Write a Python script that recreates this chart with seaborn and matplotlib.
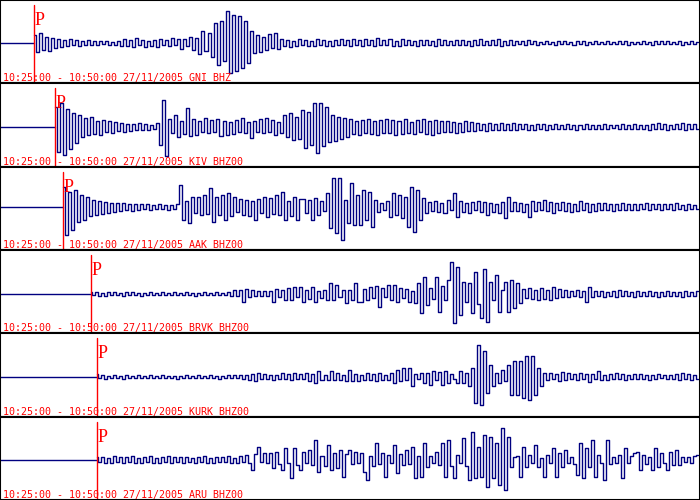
import numpy as np
import matplotlib
matplotlib.use('Agg')
import matplotlib.pyplot as plt
import seaborn as sns

# Seismograms 10:25:00 - 10:50:00 27/11/2005, amplitudes in pixel units,
# one sample every ~3 px starting at the P arrival
stations = ['GNI BHZ', 'KIV BHZ00', 'AAK BHZ00', 'BRVK BHZ00', 'KURK BHZ00', 'ARU BHZ00']
p_times = [73, 118, 135, 194, 207, 207]  # seconds after 10:25:00
baselines = [43, 44, 40, 44, 44, 43]      # px from panel top

gni = [8, -9, 10, -7, 6, -8, 5, -5, 4, -4,
       3, -3, 4, -2, 3, -3, 2, -2, 3, -2,
       2, -2, 2, -1, 2, -2, 1, -2, 2, -3,
       4, -3, 3, -4, 5, -2, 3, -4, 2, -3,
       3, -4, 4, -2, 3, -3, 5, -2, 4, -6,
       4, -3, 6, -7, 5, -11, 12, -8, 10, -14,
       20, -22, 22, -18, 32, -30, 28, -28, 27, -25,
       22, -20, 12, -10, 8, -9, 6, -7, 9, -5,
       10, -6, 4, -3, 3, -4, 2, -3, 4, -2,
       3, -3, 2, -3, 4, -2, 3, -3, 2, -3,
       3, -2, 4, -2, 3, -3, 4, -2, 3, -3,
       4, -2, 3, -3, 5, -2, 3, -2, 4, -3,
       2, -3, 4, -2, 3, -2, 2, -3, 3, -2,
       3, -2, 2, -3, 4, -2, 3, -2, 2, -2,
       3, -2, 3, -2, 2, -3, 3, -2, 4, -2,
       2, -2, 3, -2, 4, -3, 2, -2, 3, -2,
       2, -1, 2, -2, 3, -1, 2, -2, 1, -1,
       2, -1, 1, -2, 2, -1, 2, -1, 1, -2,
       2, -1, 2, -2, 1, -1, 2, -1, 1, -1,
       2, -1, 1, -1, 2, -1, 2, -2, 1, -1,
       1, -1, 2, -1, 1, -2, 2, -1, 2, -1,
       2, -1, 1, -1, 2, -2, 1, -1, 2, -1, 1]

kiv = [20, -25, 24, -28, 18, -22, 14, -16, 12, -10,
       9, -8, 10, -7, 6, -8, 7, -5, 6, -6,
       5, -4, 4, -5, 3, -4, 3, -3, 4, -3,
       3, -3, 2, -2, 4, -18, 27, -29, 8, -6,
       12, -10, 6, -7, 19, -9, 8, -8, 6, -5,
       9, -6, 7, -5, 8, -9, 6, -8, 5, -7,
       7, -5, 9, -6, 5, -11, 6, -5, 8, -6,
       9, -5, 7, -8, 5, -6, 12, -10, 14, -13,
       10, -12, 17, -21, 15, -18, 24, -26, 24, -19,
       20, -15, 12, -14, 10, -12, 9, -10, 8, -7,
       6, -8, 7, -6, 8, -7, 6, -8, 7, -6,
       8, -6, 7, -8, 6, -7, 8, -6, 5, -7,
       7, -5, 8, -7, 6, -8, 7, -6, 6, -5,
       6, -5, 5, -6, 4, -5, 6, -4, 5, -4,
       4, -3, 3, -4, 4, -3, 3, -3, 4, -3,
       3, -3, 4, -3, 3, -2, 3, -3, 2, -3,
       3, -2, 3, -3, 2, -2, 3, -2, 2, -2,
       3, -2, 2, -3, 2, -2, 3, -2, 2, -2,
       2, -2, 3, -2, 2, -1, 2, -2, 3, -2,
       2, -2, 3, -2, 2, -2, 2, -3, 3, -2,
       4, -2, 3, -3, 2, -2, 3, -2, 4, -3,
       3, -2, 3, -2]

aak = [20, -28, 15, -23, 17, -15, 12, -13, 10, -9,
       7, -8, 6, -7, 5, -6, 4, -5, 4, -4,
       4, -3, 3, -4, 3, -3, 3, -2, 3, -3,
       2, -2, 3, -2, 2, -3, 2, -2, 3, 22,
       -13, 6, -16, 10, -6, 10, -8, 12, -7, 19,
       -15, 10, -8, 12, -13, 14, -9, 10, -5, 8,
       -8, 7, -9, 6, -13, 8, -6, 10, -10, 9,
       -7, 12, -8, 15, -13, 6, -9, 10, -13, 8,
       8, -6, 7, -13, 9, -8, 6, -4, 14, -21,
       29, -26, 29, -33, 7, -16, 24, -18, 12, -18,
       17, -13, 15, -20, 7, -5, 4, -3, 6, -10,
       14, -8, 12, -11, 10, -20, 20, -25, 17, -13,
       9, -6, 5, -4, 6, -5, 4, -6, 7, -3,
       14, -10, 6, -5, 4, -6, 5, -3, 6, -5,
       5, -8, 4, -5, 3, -6, 5, -11, 10, -4,
       5, -4, 4, -5, 3, -10, 6, -4, 5, -3,
       7, -4, 5, -6, 4, -3, 5, -4, 4, -5,
       3, -4, 6, -3, 4, -5, 3, -4, 4, -3,
       4, -3, 3, -4, 3, -3, 4, -3, 3, -3,
       3, -3, 3, -2, 4, -3, 3, -2, 3, -3,
       3, -2, 3, -3, 4, -2, 2, -3, 3, -2,
       2, -2]

brvk = [2, -1, 2, -2, 1, -2, 2, -1, 2, -1,
        1, -2, 2, -1, 2, -1, 1, -2, 1, -1,
        2, -1, 1, -1, 2, -1, 1, -1, 2, -1,
        1, -1, 2, -1, 1, -2, 1, -1, 2, -1,
        1, -1, 2, -1, 1, -1, 2, -2, 4, -2,
        4, -8, 5, -3, 4, -2, 3, -2, 3, -2,
        3, -8, 5, -3, 4, -6, 6, -6, 7, -3,
        7, -8, 4, -5, 7, -8, 3, -4, 4, -6,
        11, -6, 9, -3, 4, -9, 4, -6, 11, -8,
        -8, 5, -6, 7, -4, 8, -13, 6, -3, 9,
        -6, 9, -8, 6, -4, 5, -8, 3, -9, 11,
        -19, 17, -11, 6, -5, 17, -18, 8, -6, 14,
        32, -29, 27, -21, 12, -8, 11, -19, 22, -10,
        -24, 25, -28, 12, -6, 19, -18, 4, 12, -18,
        14, -14, 11, -9, 5, -4, 6, -5, 4, -6,
        6, -5, 4, -6, 7, -4, 5, -3, 4, -3,
        3, -2, 4, -3, 3, -8, 7, -3, 3, -2,
        3, -3, 2, -2, 3, -3, 4, -2, 3, -2,
        2, -3, 3, -2, 2, -2, 3, -2, 2, -3,
        2, -2, 3, -2, 2, -2, 2, -3, 3, -2,
        2, -2, 3]

kurk = [3, -1, 2, -2, 1, -1, 2, -1, 1, -2,
        2, -1, 1, -1, 2, -1, 1, -1, 2, -1,
        1, -1, 2, -1, 1, -1, 1, -2, 1, -1,
        2, -1, 1, -1, 2, -1, 1, -1, 2, -1,
        1, -2, 1, -1, 2, -1, 2, -1, 2, -2,
        2, -3, 3, -4, 4, -2, 3, -2, 2, -3,
        2, -2, 4, -2, 3, -3, 4, -2, 3, -2,
        4, -4, 3, -6, 6, -3, 2, -3, 6, -3,
        4, -3, 2, -4, 7, -4, 3, -4, 2, -3,
        4, -3, 3, -4, 4, -3, 2, -3, 4, -6,
        7, -4, 9, -3, 9, -9, 3, -2, 4, -6,
        4, -8, 6, -3, 5, -8, 6, -6, 3, -2,
        -6, 6, -6, 4, -9, 9, -26, 32, -28, 26,
        -16, 12, -9, 4, -6, 7, -4, 12, -18, 16,
        -18, 16, -21, 21, -23, 21, -18, 9, -9, 4,
        -3, 4, -2, 3, -4, 5, -3, 4, -2, 3,
        -3, 4, -2, 3, -5, 3, -2, 6, -3, 2,
        -3, 3, -2, 4, -2, 3, -3, 2, -2, 3,
        -2, 3, -2, 2, -3, 2, -2, 3, -1, 2,
        -2, 2, -2, 3, -3, 4, -2, 3, -3, 2,
        -2]

aru = [3, -2, 3, -3, 2, -3, 4, -2, 3, -3,
       3, -2, 4, -3, 2, -3, 3, -2, 4, -3,
       2, -3, 3, -2, 4, -3, 3, -2, 3, -3,
       3, -2, 2, -3, 3, -2, 4, -3, 2, -3,
       3, -2, 3, -2, 4, -3, 2, -3, 4, -2,
       5, -3, -10, 6, 13, -2, 7, -3, 7, -8,
       8, -4, -10, 12, -3, -18, 12, -5, -10, 8,
       -3, 10, -5, 20, -12, 4, -6, 15, -10, 7,
       -8, 10, -17, 6, 10, -4, 8, -3, 7, -12,
       -20, 4, -6, 17, -4, 7, -17, 5, -3, 15,
       -13, 6, -5, 10, -4, 13, -18, 4, -17, 17,
       -7, 4, -3, 8, -5, 17, -17, 20, -6, -18,
       5, -3, 22, -6, -20, 28, -18, 13, -17, 25,
       -27, 23, -18, 17, -25, 32, -30, 23, -7, 3,
       4, -17, 13, -7, 5, -3, 15, -7, 2, -17,
       5, -3, 12, -17, 7, -7, 10, -3, 3, -4,
       -15, 17, -18, 12, -7, 20, -17, 5, -3, -20,
       20, -4, 3, -3, 5, -18, 12, -3, 4, 7,
       8, -10, 5, -4, 3, -10, 12, -7, 7, -3,
       -10, 8, -5, 10, -5, 3, -2, 3, -3, 4,
       5]

traces = [gni, kiv, aak, brvk, kurk, aru]

sns.set_style('white')
fig = plt.figure(figsize=(7, 5), dpi=100)
panel_h = 1 / 6
panel_px = 500 * panel_h
t_end = 1495

for i, (name, tp, base, vals) in enumerate(zip(stations, p_times, baselines, traces)):
    ax = fig.add_axes([0, 1 - (i + 1) * panel_h, 1, panel_h])
    t = np.linspace(tp, t_end, len(vals))
    # flat pre-event trace up to the P arrival
    sns.lineplot(x=[0, tp], y=[0, 0], ax=ax, color='#000080', lw=1.0,
                 estimator=None, sort=False)
    sns.lineplot(x=t, y=vals, ax=ax, color='#000080', lw=1.0,
                 drawstyle='steps-mid', estimator=None, sort=False)
    ax.set_xlim(0, 1500)
    ax.set_ylim(-(panel_px - base), base)
    ax.axvline(tp, ymin=0, ymax=1 - 5 / panel_px, color='red', lw=1.0)
    ax.text(tp + 2, 1 - 25 / panel_px, 'P', transform=ax.get_xaxis_transform(),
            color='red', fontsize=13, family='Liberation Serif',
            ha='left', va='baseline')
    ax.text(3 / 700, 2 / panel_px, '10:25:00 - 10:50:00 27/11/2005 ' + name,
            transform=ax.transAxes, color='red', fontsize=7.2,
            family='DejaVu Sans Mono', ha='left', va='baseline')
    ax.set_xticks([])
    ax.set_yticks([])
    ax.set_xlabel('')
    ax.set_ylabel('')
    for s in ax.spines.values():
        s.set_visible(True)
        s.set_color('black')
        s.set_linewidth(1.5)

fig.savefig('out.png', dpi=100)
